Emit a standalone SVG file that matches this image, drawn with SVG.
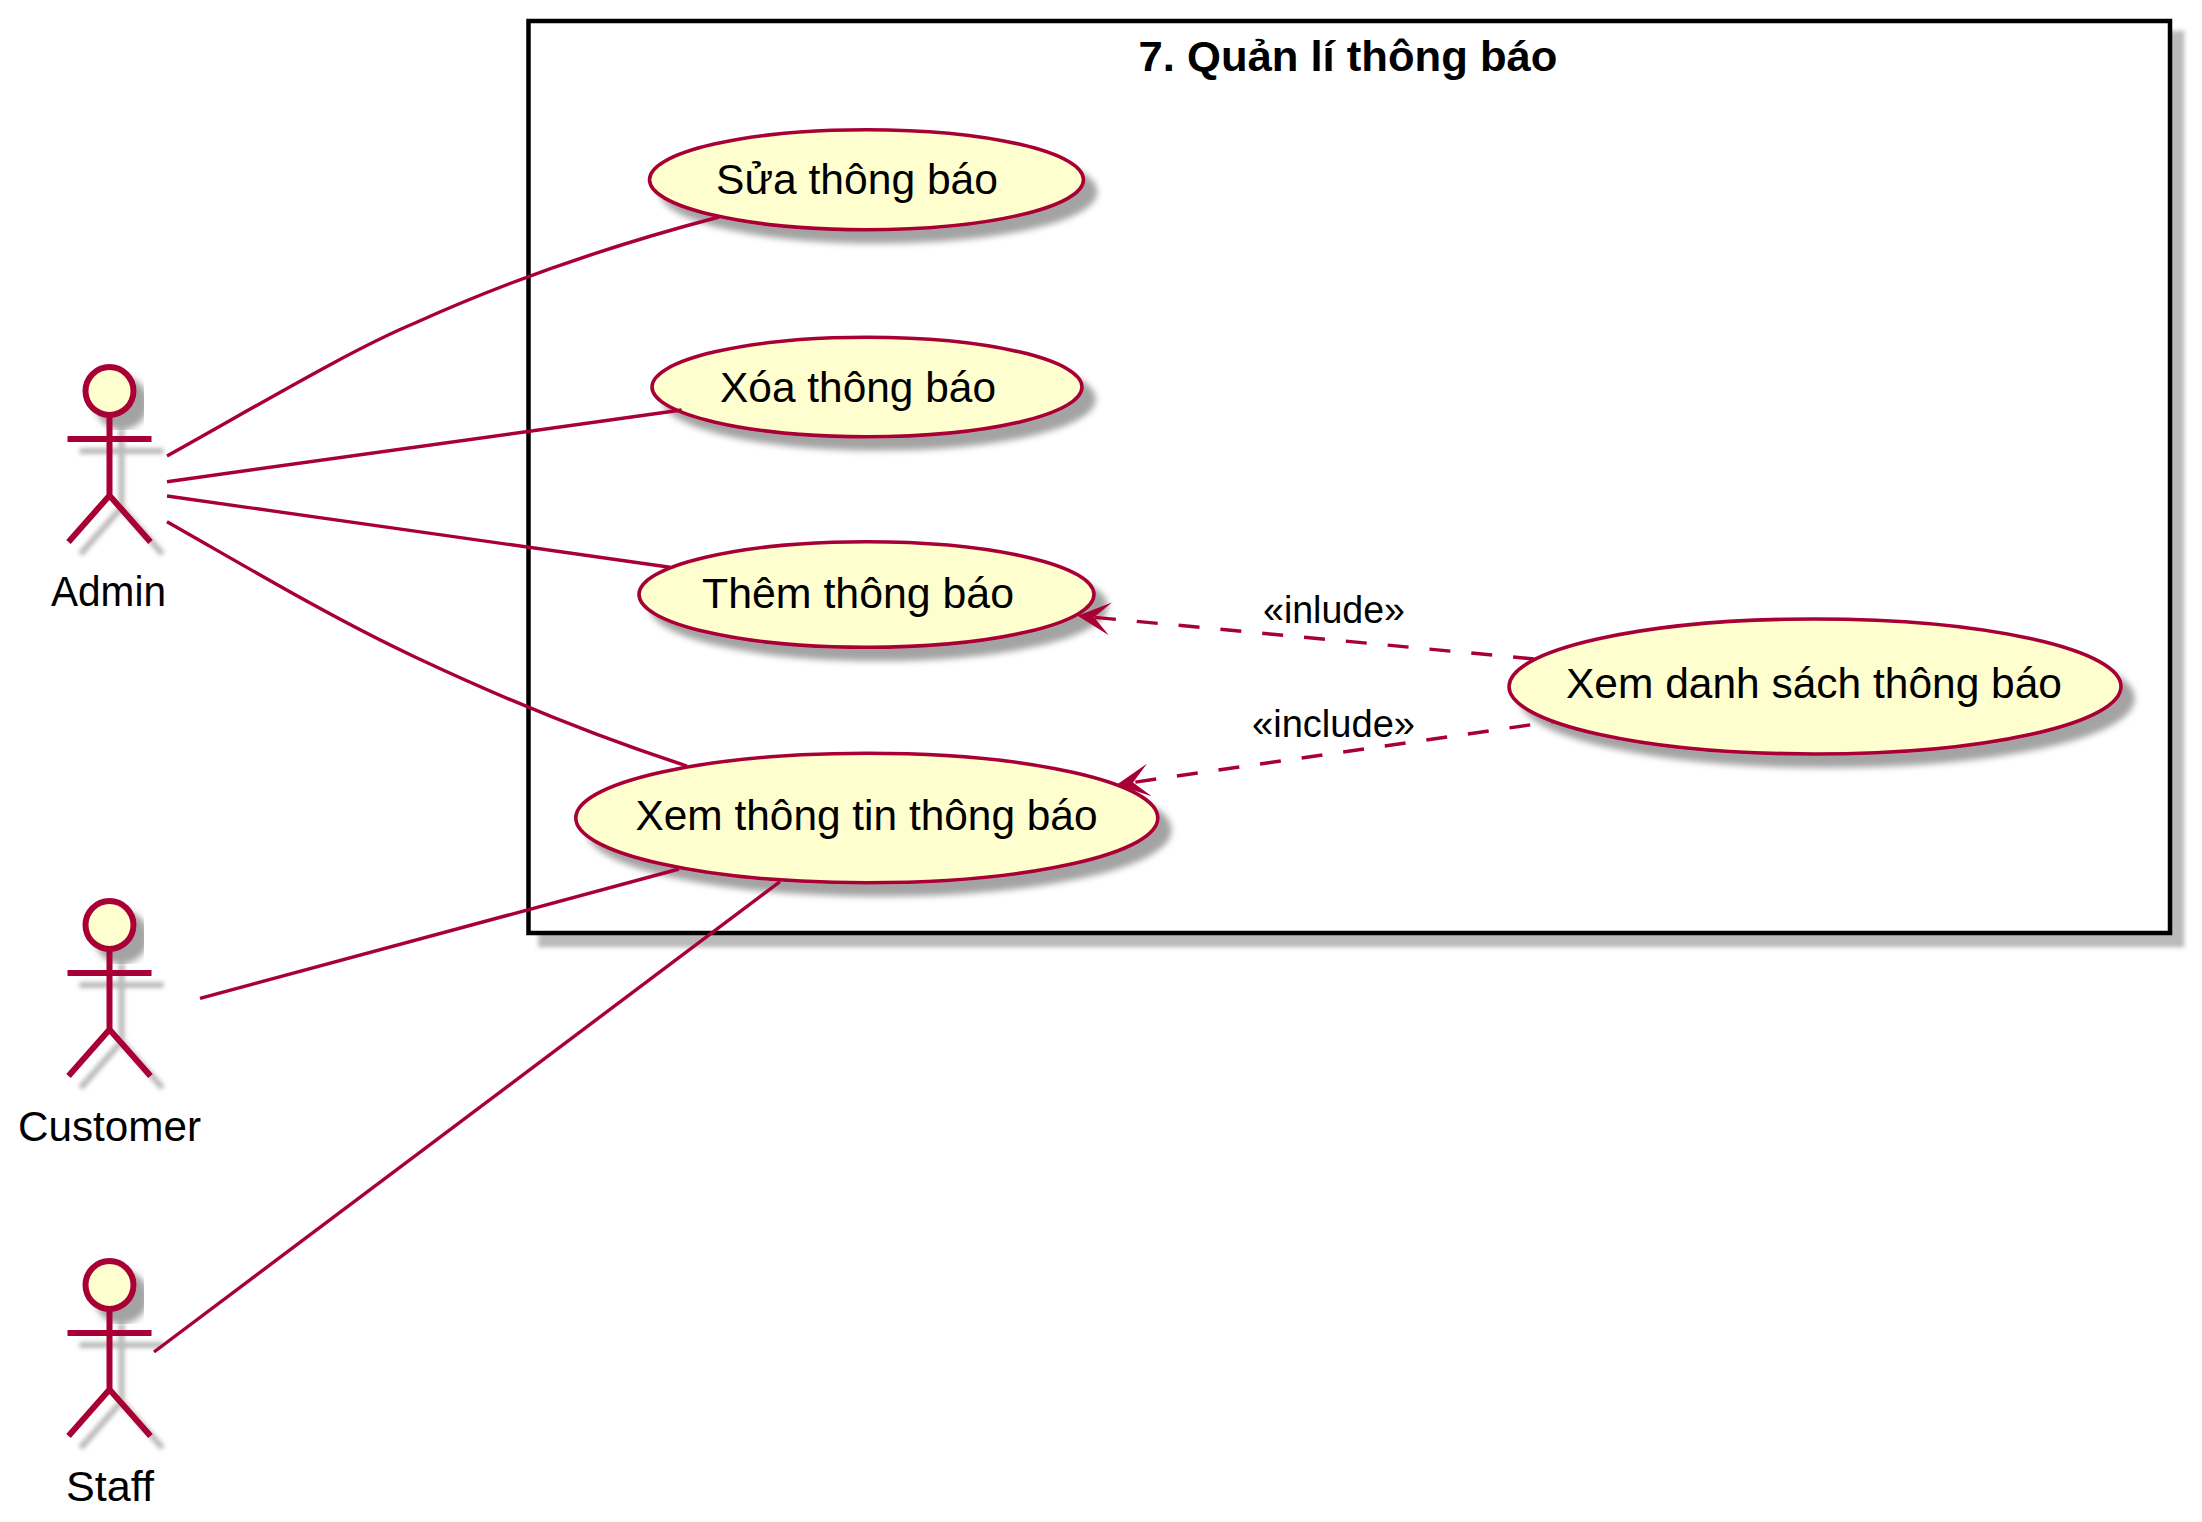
<svg xmlns="http://www.w3.org/2000/svg" width="2202" height="1522" viewBox="0 0 2202 1522">
<style>
text{font-family:"Liberation Sans",Arial,sans-serif;font-size:42px;fill:#000}
.title{font-weight:bold}
.lbl{font-size:39px}
.uc{fill:#FEFECE;stroke:#A80036;stroke-width:3.6}
.fig{stroke:#A80036;stroke-width:6;fill:none}
.head{fill:#FEFECE;stroke:#A80036;stroke-width:6}
.ln{stroke:#A80036;stroke-width:3.4;fill:none}
.dash{stroke-dasharray:21 21}
</style>
<defs>
<filter id="sd" x="-20%" y="-30%" width="140%" height="160%">
<feGaussianBlur in="SourceAlpha" stdDeviation="3"/>
<feColorMatrix type="matrix" values="0 0 0 0 0 0 0 0 0 0 0 0 0 0 0 0 0 0 .36 0"/>
<feOffset dx="12" dy="12" result="s"/>
<feBlend in="SourceGraphic" in2="s" mode="normal"/>
</filter>
<filter id="sl" filterUnits="userSpaceOnUse" x="0" y="0" width="2202" height="1522">
<feGaussianBlur in="SourceAlpha" stdDeviation="2.2"/>
<feColorMatrix type="matrix" values="0 0 0 0 0 0 0 0 0 0 0 0 0 0 0 0 0 0 .27 0"/>
<feOffset dx="12" dy="12" result="s"/>
<feBlend in="SourceGraphic" in2="s" mode="normal"/>
</filter>
<marker id="arr" markerUnits="userSpaceOnUse" markerWidth="33" markerHeight="33" viewBox="0 0 33 33" refX="16.5" refY="16.5" orient="auto">
<path d="M33,16.5 L0,0 L16.5,16.5 L0,33 Z" fill="#A80036"/>
</marker>
</defs>

<g id="frame">
<rect x="528.500" y="21" width="1641.500" height="912" fill="#fff" stroke="#000" stroke-width="4.500" filter="url(#sl)"/>
<text class="title" x="1138.500" y="71" textLength="419" lengthAdjust="spacingAndGlyphs">7. Quản lí thông báo</text>
</g>

<g id="actor-admin">
<circle class="head" cx="109.500" cy="391" r="24" filter="url(#sd)"/>
<path class="fig" filter="url(#sl)" d="M109.500,417 V495.500 M67.500,439 H151.500 M68.500,542 L109.500,495.500 L150.500,542"/>
<text x="51" y="606" textLength="115" lengthAdjust="spacingAndGlyphs">Admin</text>
</g>
<g id="actor-customer">
<circle class="head" cx="109.500" cy="925" r="24" filter="url(#sd)"/>
<path class="fig" filter="url(#sl)" d="M109.500,951 V1029.500 M67.500,973 H151.500 M68.500,1076 L109.500,1029.500 L150.500,1076"/>
<text x="18" y="1141" textLength="183" lengthAdjust="spacingAndGlyphs">Customer</text>
</g>
<g id="actor-staff">
<circle class="head" cx="109.500" cy="1285" r="24" filter="url(#sd)"/>
<path class="fig" filter="url(#sl)" d="M109.500,1311 V1389.500 M67.500,1333 H151.500 M68.500,1436 L109.500,1389.500 L150.500,1436"/>
<text x="66" y="1501" textLength="88" lengthAdjust="spacingAndGlyphs">Staff</text>
</g>

<g id="uc-sua">
<ellipse class="uc" cx="866.500" cy="179.700" rx="217" ry="50" filter="url(#sd)"/>
<text x="716" y="193.500" textLength="282" lengthAdjust="spacingAndGlyphs">Sửa thông báo</text>
</g>
<g id="uc-xoa">
<ellipse class="uc" cx="867" cy="387" rx="215" ry="49.700" filter="url(#sd)"/>
<text x="720" y="401.500" textLength="276" lengthAdjust="spacingAndGlyphs">Xóa thông báo</text>
</g>
<g id="uc-them">
<ellipse class="uc" cx="866.500" cy="594.500" rx="227.500" ry="52.800" filter="url(#sd)"/>
<text x="702" y="608" textLength="312" lengthAdjust="spacingAndGlyphs">Thêm thông báo</text>
</g>
<g id="uc-xemtt">
<ellipse class="uc" cx="866.800" cy="818" rx="291" ry="64.700" filter="url(#sd)"/>
<text x="635.500" y="830" textLength="462" lengthAdjust="spacingAndGlyphs">Xem thông tin thông báo</text>
</g>
<g id="uc-xemds">
<ellipse class="uc" cx="1815" cy="686.500" rx="306" ry="67.500" filter="url(#sd)"/>
<text x="1566" y="698" textLength="496" lengthAdjust="spacingAndGlyphs">Xem danh sách thông báo</text>
</g>

<g id="connectors">
<path class="ln" d="M167,456 C250,410 350,350 415,323 C510,280 620,243 719,217"/>
<path class="ln" d="M167,481.700 L681.700,410"/>
<path class="ln" d="M167,496 L670,567.300"/>
<path class="ln" d="M167,521.700 C245,566 330,617 415,657 C500,697 600,738 687,766"/>
<path class="ln" d="M200,998.300 L679,869"/>
<path class="ln" d="M154,1352 L780,881.700"/>
<path class="ln dash" d="M1534,659 L1094,617.300" marker-end="url(#arr)"/>
<path class="ln dash" d="M1554,721.500 L1133,782.400" stroke-dashoffset="18" marker-end="url(#arr)"/>
<text class="lbl" x="1263" y="622.500" textLength="142" lengthAdjust="spacingAndGlyphs">«inlude»</text>
<text class="lbl" x="1252" y="736.500" textLength="163" lengthAdjust="spacingAndGlyphs">«include»</text>
</g>
</svg>
